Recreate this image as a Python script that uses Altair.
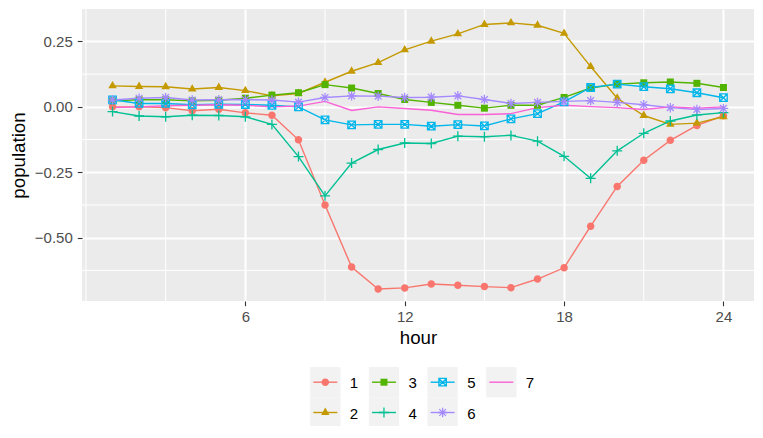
import altair as alt
import pandas as pd

# ---------------- data ----------------
hours = list(range(1, 25))
series_names = ["1", "2", "3", "4", "5", "6", "7"]

s1 = [0.000, 0.000, -0.003, -0.015, -0.009, -0.023, -0.032, -0.126, -0.375, -0.612, -0.696, -0.692,
      -0.677, -0.682, -0.687, -0.691, -0.658, -0.615, -0.456, -0.304, -0.204, -0.128, -0.071, -0.034]
s2 = [0.080, 0.078, 0.077, 0.068, 0.074, 0.062, 0.042, 0.051, 0.094, 0.136, 0.169, 0.218,
      0.251, 0.279, 0.315, 0.321, 0.312, 0.281, 0.154, 0.033, -0.033, -0.067, -0.062, -0.038]
s3 = [0.023, 0.027, 0.027, 0.023, 0.025, 0.033, 0.045, 0.054, 0.085, 0.072, 0.051, 0.028,
      0.017, 0.006, -0.005, 0.006, 0.006, 0.036, 0.072, 0.087, 0.092, 0.095, 0.090, 0.074]
s4 = [-0.018, -0.035, -0.038, -0.032, -0.033, -0.038, -0.067, -0.190, -0.340, -0.215, -0.163, -0.138,
      -0.140, -0.112, -0.114, -0.109, -0.131, -0.189, -0.273, -0.168, -0.101, -0.054, -0.031, -0.022]
s5 = [0.027, 0.013, 0.013, 0.008, 0.010, 0.009, 0.006, 0.000, -0.050, -0.069, -0.067, -0.067,
      -0.074, -0.068, -0.073, -0.046, -0.026, 0.019, 0.074, 0.087, 0.077, 0.069, 0.054, 0.035]
s6 = [0.026, 0.033, 0.036, 0.026, 0.027, 0.028, 0.026, 0.018, 0.036, 0.042, 0.041, 0.036,
      0.037, 0.042, 0.028, 0.013, 0.017, 0.021, 0.024, 0.017, 0.008, -0.003, -0.010, -0.006]
s7 = [-0.003, 0.000, 0.004, 0.006, 0.008, 0.006, 0.000, 0.003, 0.021, -0.014, 0.000, -0.006,
      -0.013, -0.029, -0.029, -0.026, -0.003, 0.006, 0.001, -0.003, -0.010, 0.000, -0.005, 0.000]

x_breaks = [6, 12, 18, 24]
x_minor = [0, 3, 9, 15, 21]
y_breaks = [-0.5, -0.25, 0.0, 0.25]
y_minor = [-0.625, -0.375, -0.125, 0.125]

colors = ["#F8766D", "#C49A00", "#53B400", "#00C094", "#00B6EB", "#A58AFF", "#FB61D7"]
filled_series = ["1", "2", "3"]
stroked_series = ["4", "5", "6"]

# ggplot-like point shapes (16, 17, 15, 3, 7, 8); series 7 has no marker
shape_paths = [
    "M-0.75,0A0.75,0.75 0 1,0 0.75,0A0.75,0.75 0 1,0 -0.75,0Z",
    "M0,-0.98L0.849,0.49L-0.849,0.49Z",
    "M-0.7,-0.7L0.7,-0.7L0.7,0.7L-0.7,0.7Z",
    "M-1,0L1,0M0,-1L0,1",
    "M-0.75,-0.75L0.75,-0.75L0.75,0.75L-0.75,0.75ZM-0.75,-0.75L0.75,0.75M-0.75,0.75L0.75,-0.75",
    "M-0.95,0L0.95,0M0,-0.95L0,0.95M-0.67,-0.67L0.67,0.67M-0.67,0.67L0.67,-0.67",
    "M0,0",
]

rows = []
for name, vals in zip(series_names, [s1, s2, s3, s4, s5, s6, s7]):
    for h, v in zip(hours, vals):
        rows.append({"hour": h, "population": v, "series": name})
df = pd.DataFrame(rows)

FONT = "Liberation Sans"

color_scale = alt.Scale(domain=series_names, range=colors)
shape_scale = alt.Scale(domain=series_names, range=shape_paths)
x_scale = alt.Scale(domain=[-0.15, 25.15], nice=False, zero=False)
y_scale = alt.Scale(domain=[-0.742, 0.374], nice=False, zero=False)

x_axis = alt.Axis(
    values=x_breaks, title="hour", grid=True, gridColor="white", gridWidth=2,
    domain=False, tickColor="#333333", tickWidth=1.1, tickSize=4.7,
    labelFont=FONT, labelFontSize=15, labelColor="#4D4D4D",
    labelBaseline="alphabetic", labelPadding=16, labelFlush=False, labelOverlap=False,
    titleFont=FONT, titleFontSize=18.7, titleFontWeight="normal", titleColor="black",
    titleBaseline="alphabetic", titleY=42.3,
)
y_axis = alt.Axis(
    values=y_breaks, format=".2f", title="population", grid=True, gridColor="white", gridWidth=2,
    domain=False, tickColor="#333333", tickWidth=1.1, tickSize=4.7,
    labelFont=FONT, labelFontSize=15, labelColor="#4D4D4D",
    labelPadding=5, labelFlush=False, labelOverlap=False,
    titleFont=FONT, titleFontSize=18.7, titleFontWeight="normal", titleColor="black",
    titleBaseline="alphabetic", titleX=-58,
)

X = alt.X("hour:Q", scale=x_scale, axis=x_axis)
Y = alt.Y("population:Q", scale=y_scale, axis=y_axis)
C = alt.Color("series:N", scale=color_scale, legend=None)
S = alt.Shape("series:N", scale=shape_scale, legend=None)

minor_x = alt.Chart(pd.DataFrame({"hour": x_minor})).mark_rule(
    color="white", strokeWidth=1).encode(x=X)
minor_y = alt.Chart(pd.DataFrame({"population": y_minor})).mark_rule(
    color="white", strokeWidth=1).encode(y=Y)

base = alt.Chart(df)
lines = base.mark_line(strokeWidth=1.4).encode(x=X, y=Y, color=C)
pts_f = base.transform_filter(
    alt.FieldOneOfPredicate(field="series", oneOf=filled_series)
).mark_point(filled=True, size=100, opacity=1).encode(x=X, y=Y, color=C, shape=S)
pts_s = base.transform_filter(
    alt.FieldOneOfPredicate(field="series", oneOf=stroked_series)
).mark_point(filled=False, size=100, strokeWidth=1.3, opacity=1).encode(x=X, y=Y, color=C, shape=S)

main = alt.layer(minor_x, minor_y, lines, pts_f, pts_s)

# ---------------- legend (ggplot-style keys) ----------------
leg_base = alt.Chart(pd.DataFrame({"series": series_names})).transform_calculate(
    col="floor((toNumber(datum.series) - 1) / 2)",
    row="(toNumber(datum.series) - 1) % 2",
)
LX = alt.X("col:Q", scale=alt.Scale(domain=[0, 3], range=[243.3, 419.3], nice=False, zero=False), axis=None)
LY = alt.Y("row:Q", scale=alt.Scale(domain=[0, 1], range=[373.2, 403.5], nice=False, zero=False), axis=None)

leg_bg = leg_base.mark_point(shape="square", size=918, filled=True, color="#F2F2F2", opacity=1).encode(x=LX, y=LY)
leg_line = leg_base.mark_point(shape="M-1,0L1,0", size=576, filled=False, strokeWidth=1.4, opacity=1).encode(
    x=LX, y=LY, color=C)
leg_pf = leg_base.transform_filter(
    alt.FieldOneOfPredicate(field="series", oneOf=filled_series)
).mark_point(filled=True, size=100, opacity=1).encode(x=LX, y=LY, color=C, shape=S)
leg_ps = leg_base.transform_filter(
    alt.FieldOneOfPredicate(field="series", oneOf=stroked_series)
).mark_point(filled=False, size=100, strokeWidth=1.3, opacity=1).encode(x=LX, y=LY, color=C, shape=S)
leg_text = leg_base.mark_text(align="left", baseline="middle", dx=24.5, dy=1, font=FONT,
                              fontSize=15, color="black").encode(x=LX, y=LY, text="series:N")

legend = alt.layer(leg_bg, leg_line, leg_pf, leg_ps, leg_text)

chart = alt.layer(main, legend).resolve_scale(
    x="independent", y="independent"
).properties(
    width=672, height=292,
    padding={"left": 74, "top": 1, "right": 1, "bottom": 125},
    autosize=alt.AutoSizeParams(type="none"),
    background="white",
).configure_view(fill="#EBEBEB", strokeWidth=0)

chart.save("out.html", embed_options={"renderer": "svg", "actions": False})
